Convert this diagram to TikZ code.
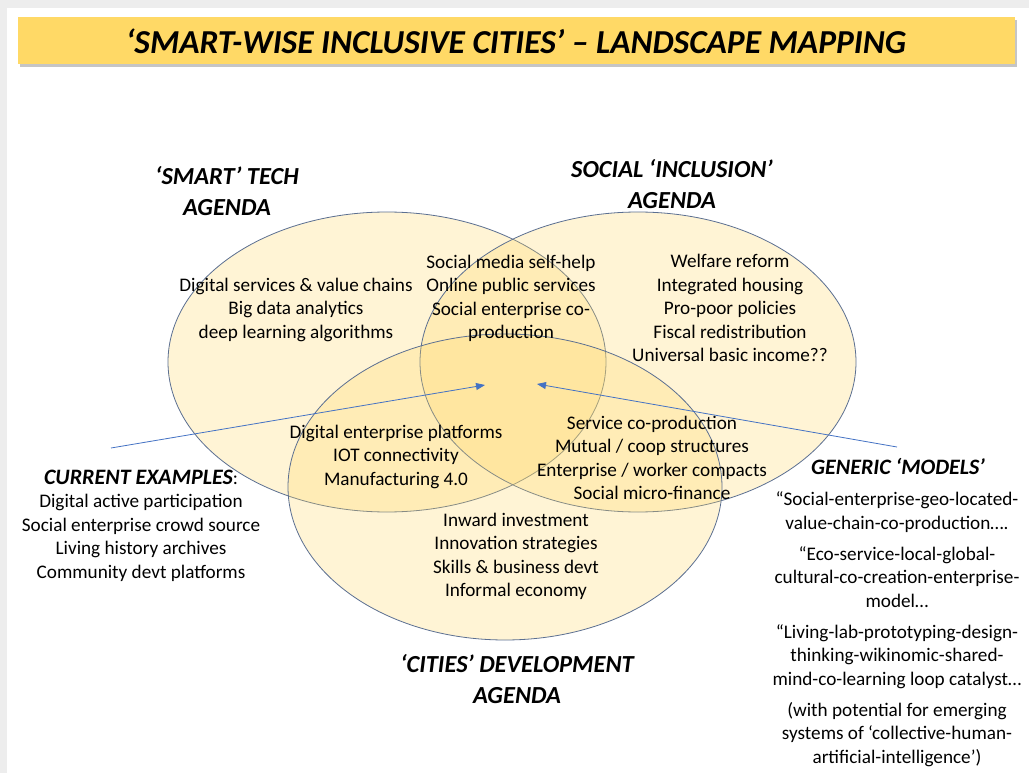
\documentclass[tikz,border=0pt]{standalone}
\usepackage{fontspec}
\setmainfont{Carlito}
\usetikzlibrary{shadows,arrows.meta}
\definecolor{titlegold}{HTML}{FFD966}
\definecolor{venngold}{HTML}{FFD966}
\definecolor{vennline}{HTML}{5B6F91}
\definecolor{arrowblue}{HTML}{4472C4}
\definecolor{edgegray}{HTML}{EDEDED}

\begin{document}
\begin{tikzpicture}[x=1pt,y=-1pt,
    venn/.style={draw=vennline,fill=venngold,fill opacity=0.27,draw opacity=1,line width=0.8pt},
    items/.style={align=center,inner sep=0pt,font=\fontsize{19.2}{23.5}\selectfont},
    agenda/.style={align=center,inner sep=0pt,font=\fontsize{24.5}{30.5}\selectfont\bfseries\itshape},
    pointer/.style={draw=arrowblue,line width=0.8pt,-{Triangle[length=9pt,width=7pt]}}]
  \useasboundingbox (0,0) rectangle (1029,773);
  % page edge
  \fill[edgegray] (0,0) rectangle (1029,773);
  \fill[white] (7,8) rectangle (1029,773);
  % title bar
  \node[fill=titlegold,minimum width=997pt,minimum height=47pt,inner sep=0pt,
        drop shadow={shadow xshift=2pt,shadow yshift=-3pt,opacity=0.45},
        font=\fontsize{33.5}{38}\selectfont\bfseries\itshape] (title) at (516,41)
        {‘SMART-WISE INCLUSIVE CITIES’ – LANDSCAPE MAPPING};
  % the three agendas
  \draw[venn] (387,362) ellipse [x radius=219pt, y radius=150pt];
  \draw[venn] (638,362) ellipse [x radius=218pt, y radius=150pt];
  \draw[venn] (505,487) ellipse [x radius=217pt, y radius=153pt];
  \node[agenda] (smart) at (227,191) {‘SMART’ TECH\\AGENDA};
  \node[agenda] (social) at (672,184) {SOCIAL ‘INCLUSION’\\AGENDA};
  \node[agenda] (cities) at (517,679) {‘CITIES’ DEVELOPMENT\\AGENDA};
  % contents
  \node[items] (smartlist) at (296,309.5) {Digital services \& value chains\\Big data analytics\\deep learning algorithms};
  \node[items] (smartsocial) at (511,298.5) {Social media self-help\\Online public services\\Social enterprise co-\\production};
  \node[items] (sociallist) at (730,308) {Welfare reform\\Integrated housing\\Pro-poor policies\\Fiscal redistribution\\Universal basic income??};
  \node[items] (smartcities) at (396,456.5) {Digital enterprise platforms\\IOT connectivity\\Manufacturing 4.0};
  \node[items] (socialcities) at (652,458) {Service co-production\\Mutual / coop structures\\Enterprise / worker compacts\\Social micro-finance};
  \node[items] (citieslist) at (516,556.5) {Inward investment\\Innovation strategies\\Skills \& business devt\\Informal economy};
  % examples and models
  \node[items] (examples) at (141,525.5) {{\fontsize{22}{23.5}\selectfont\bfseries\itshape CURRENT EXAMPLES}:\\Digital active participation\\Social enterprise crowd source\\Living history archives\\Community devt platforms};
  \node[items,font=\fontsize{22}{23.5}\selectfont\bfseries\itshape] (models) at (898,466) {GENERIC ‘MODELS’};
  \node[items] (modellist) at (897,629) {“Social-enterprise-geo-located-\\value-chain-co-production….\\[7.5pt]
    “Eco-service-local-global-\\cultural-co-creation-enterprise-\\model…\\[7.5pt]
    “Living-lab-prototyping-design-\\thinking-wikinomic-shared-\\mind-co-learning loop catalyst…\\[7.5pt]
    (with potential for emerging\\systems of ‘collective-human-\\artificial-intelligence’)};
  % pointers into the middle
  \coordinate (exfrom) at (111,448);
  \coordinate (exto) at (485,385);
  \coordinate (mofrom) at (897,447);
  \coordinate (moto) at (537,384);
  \draw[pointer] (exfrom) -- (exto);
  \draw[pointer] (mofrom) -- (moto);
\end{tikzpicture}
\end{document}
